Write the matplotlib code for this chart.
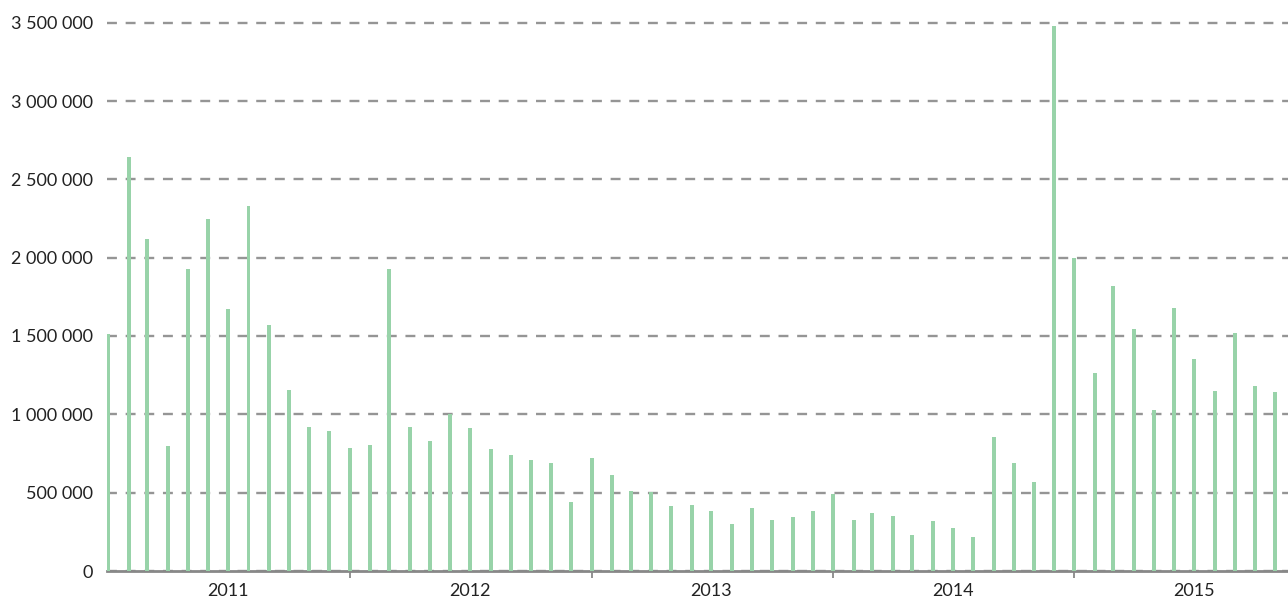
import matplotlib
matplotlib.use("Agg")
import matplotlib.pyplot as plt
from matplotlib.ticker import FuncFormatter
import pandas as pd

# monthly values, Jan 2011 .. Nov 2015
values_2011 = [1515000, 2640000, 2120000, 795000, 1925000, 2245000,
               1670000, 2330000, 1572000, 1158000, 918000, 892000]
values_2012 = [785000, 805000, 1925000, 918000, 830000, 1005000,
               915000, 778000, 742000, 706000, 688000, 441000]
values_2013 = [723000, 610000, 510000, 505000, 414000, 424000,
               380000, 299000, 405000, 326000, 344000, 380000]
values_2014 = [494000, 326000, 371000, 354000, 229000, 318000,
               273000, 220000, 857000, 688000, 567000, 3480000]
values_2015 = [1995000, 1262000, 1818000, 1543000, 1025000, 1677000,
               1352000, 1148000, 1518000, 1184000, 1140000]

values = values_2011 + values_2012 + values_2013 + values_2014 + values_2015
dates = pd.date_range("2011-01-01", periods=len(values), freq="MS")
year_labels = ["2011", "2012", "2013", "2014", "2015"]
y_ticks = [0, 500000, 1000000, 1500000, 2000000, 2500000, 3000000, 3500000]

plt.rcParams['font.family'] = ['Lato', 'DejaVu Sans']

fig = plt.figure(figsize=(12.88, 6.01), dpi=100)
ax = fig.add_axes([107 / 1288, 30 / 601, 1 - 107 / 1288, (571 - 7) / 601])

ax.bar(dates, values, width=6, color="#98d3a9", zorder=3)

ax.set_ylim(0, 3600000)
ax.set_xlim(pd.Timestamp("2010-12-30"), pd.Timestamp("2015-11-20"))

ax.set_yticks(y_ticks)
ax.yaxis.set_major_formatter(FuncFormatter(
    lambda v, p: "{:,}".format(int(v)).replace(",", " ")))
ax.yaxis.grid(True, color="#959595", linewidth=1.7, linestyle=(0, (4.2, 3.7)))
ax.set_axisbelow(True)
ax.tick_params(axis="y", length=0, pad=10, labelsize=13, labelcolor="#222222")

# year boundaries as ticks, year names in the middle
bounds = [pd.Timestamp(y + "-01-01") for y in year_labels[1:]]
ax.set_xticks(bounds)
ax.set_xticklabels([""] * len(bounds))
mids = [pd.Timestamp(y + "-07-01") for y in year_labels]
ax.set_xticks(mids, minor=True)
ax.set_xticklabels(year_labels, minor=True)
ax.tick_params(axis="x", which="major", length=5, width=1.3, color="#888888")
ax.tick_params(axis="x", which="minor", length=0, pad=9, labelsize=13,
               labelcolor="#222222")

for s in ["top", "right", "left"]:
    ax.spines[s].set_visible(False)
ax.spines["bottom"].set_color("#888888")
ax.spines["bottom"].set_linewidth(2)

fig.savefig("out.png", dpi=100)
